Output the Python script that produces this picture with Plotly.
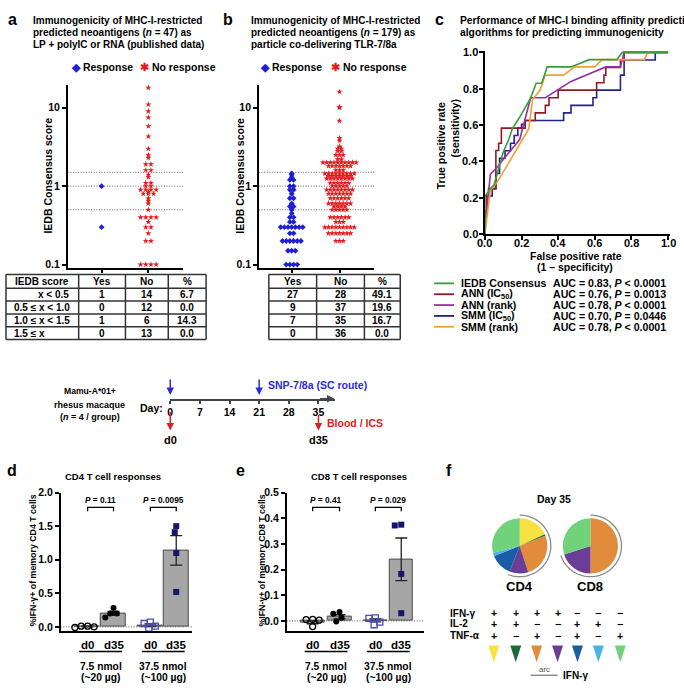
import numpy as np
import plotly.graph_objects as go

W, H = 684, 693
FONT = "Liberation Sans, Arial, Helvetica, sans-serif"


def PX(x):
    return x / W


def PY(y):
    return 1 - y / H


# ---------------- data ----------------
# panel a (published data, n = 47)
a_resp = [1.0, 0.3]
a_noresp = [18, 11, 9, 7.5, 5.8, 4.3, 3.0, 2.5, 2.3, 1.9, 1.9, 1.6, 1.6,
            1.4, 1.3, 1.1, 1.1, 1.0, 1.0,
            0.9, 0.9, 0.9, 0.9, 0.85, 0.8, 0.8, 0.8, 0.7, 0.65, 0.6, 0.5,
            0.4, 0.4, 0.4, 0.4, 0.35, 0.3, 0.3, 0.25, 0.2, 0.2, 0.1, 0.1, 0.1, 0.1]
# panel b (SNP-7/8a, n = 179)
b_resp = [1.45, 1.4, 1.3, 1.2, 1.2, 1.0, 1.0,
          0.9, 0.9, 0.8, 0.7, 0.7, 0.6, 0.55, 0.55, 0.5,
          0.45, 0.4, 0.4, 0.35, 0.35, 0.3, 0.3, 0.3, 0.3, 0.3, 0.3, 0.3,
          0.25, 0.25, 0.2, 0.2, 0.2, 0.2, 0.2, 0.2, 0.15, 0.15, 0.15,
          0.1, 0.1, 0.1, 0.1]
b_noresp = [16, 10.2, 10, 6.8, 4.1, 3.8, 3.2, 3.0, 3.0, 2.8, 2.8, 2.5, 2.5, 2.5, 2.2, 2.2,
            2.0, 2.0, 2.0, 2.0, 2.0, 2.0, 2.0, 2.0, 2.0, 2.0,
            1.8, 1.8, 1.8, 1.8, 1.8, 1.8, 1.8, 1.6, 1.6, 1.6,
            1.45, 1.45, 1.45, 1.45, 1.45, 1.45, 1.45, 1.45, 1.45,
            1.35, 1.35, 1.35, 1.35, 1.35, 1.35, 1.35,
            1.25, 1.25, 1.25, 1.25, 1.25, 1.25, 1.25, 1.25,
            1.1, 1.1, 1.1, 1.1, 1.1, 1.1, 1.0, 1.0, 1.0, 1.0, 1.0,
            0.9, 0.9, 0.9, 0.9, 0.9, 0.9, 0.9, 0.9,
            0.8, 0.8, 0.8, 0.8, 0.8, 0.8, 0.8,
            0.7, 0.7, 0.7, 0.7, 0.7, 0.7,
            0.6, 0.6, 0.6, 0.6, 0.6, 0.6, 0.6,
            0.55, 0.55, 0.55, 0.55, 0.5, 0.5, 0.5, 0.5, 0.5,
            0.4, 0.4, 0.4, 0.4, 0.4, 0.4, 0.35, 0.35, 0.35,
            0.3, 0.3, 0.3, 0.3, 0.3, 0.3, 0.3, 0.3, 0.3,
            0.25, 0.25, 0.25, 0.25, 0.25, 0.25, 0.25, 0.2, 0.2, 0.2]
ref_lines = [0.5, 1.0, 1.5]

score_bins = ["x < 0.5", "0.5 ≤ x < 1.0", "1.0 ≤ x < 1.5", "1.5 ≤ x"]
a_yes = [1, 0, 1, 0]
a_no = [14, 12, 6, 13]
a_pct = ["6.7", "0.0", "14.3", "0.0"]
b_yes = [27, 9, 7, 0]
b_no = [28, 37, 35, 36]
b_pct = ["49.1", "19.6", "16.7", "0.0"]

# panel c ROC curves
roc_ticks = [0.0, 0.2, 0.4, 0.6, 0.8, 1.0]
roc_names = ["IEDB Consensus", "ANN (IC<sub>50</sub>)", "ANN (rank)", "SMM (IC<sub>50</sub>)", "SMM (rank)"]
roc_auc = ["AUC = 0.83, <i>P</i> < 0.0001", "AUC = 0.76, <i>P</i> = 0.0013",
           "AUC = 0.78, <i>P</i> < 0.0001", "AUC = 0.70, <i>P</i> = 0.0446",
           "AUC = 0.78, <i>P</i> < 0.0001"]
roc_colors = ["#3a9b3a", "#8e1b24", "#9a2fa3", "#23238f", "#f5a02e"]
green_fpr = [0, 0.0, 0.01, 0.03, 0.05, 0.08, 0.10, 0.13, 0.15, 0.20, 0.25, 0.28, 0.31, 0.34, 0.47, 0.57, 0.72, 0.75, 1.0]
green_tpr = [0, 0.21, 0.22, 0.25, 0.27, 0.38, 0.45, 0.52, 0.58, 0.66, 0.75, 0.83, 0.83, 0.92, 0.92, 0.96, 0.96, 1.0, 1.0]
red_fpr = [0, 0, .01, .01, .02, .02, .06, .06, .075, .075, .09, .09, .22, .22, .275, .275, .33, .33,
           .35, .35, .40, .40, .61, .61, .65, .65, .66, .66, .74, .74, .76, .76, 1.0]
red_tpr = [0, .125, .125, .21, .21, .25, .25, .46, .46, .5, .5, .583, .583, .625, .625, .667, .667,
           .708, .708, .75, .75, .792, .792, .833, .833, .875, .875, .917, .917, .958, .958, 1.0, 1.0]
purple_fpr = [0, 0.01, 0.03, 0.07, 0.10, 0.14, 0.19, 0.25, 0.33, 0.47, 0.56, 0.66, 0.74, 0.76, 1.0]
purple_tpr = [0, 0.13, 0.33, 0.37, 0.41, 0.46, 0.52, 0.75, 0.75, 0.84, 0.88, 0.92, 0.92, 1.0, 1.0]
navy_fpr = [0, 0, .01, .01, .04, .04, .06, .06, .08, .08, .11, .11, .14, .14, .16, .16, .18, .18,
            .20, .20, .22, .22, .43, .43, .47, .47, .59, .59, .61, .61, .74, .74, .76, .76, .93, .93, 1.0]
navy_tpr = [0, .125, .125, .21, .21, .25, .25, .333, .333, .417, .417, .458, .458, .5, .5, .542, .542,
            .583, .583, .604, .604, .625, .625, .667, .667, .708, .708, .75, .75, .792, .792, .875,
            .875, .958, .958, 1.0, 1.0]
orange_fpr = [0, 0.02, 0.03, 0.07, 0.22, 0.24, 0.26, 0.30, 0.33, 0.43, 0.49, 0.60, 0.64, 0.87, 0.89, 1.0]
orange_tpr = [0, 0.17, 0.24, 0.29, 0.55, 0.58, 0.74, 0.79, 0.875, 0.875, 0.92, 0.92, 0.96, 0.96, 1.0, 1.0]

# timeline
days = [0, 7, 14, 21, 28, 35]
snp_days = [0, 21]
blood_days = [0, 35]

# panel d (CD4)
d_bar = [0.005, 0.20, 0.025, 1.14]
d_err = [0.005, 0.03, 0.02, 0.22]
d_g1_d0 = [0.01, 0.01, 0.0, -0.01]
d_g1_d35 = [0.28, 0.20, 0.20, 0.14]
d_g2_d0 = [0.07, 0.05, 0.01, -0.02]
d_g2_d35 = [1.50, 1.41, 1.10, 0.52]
d_p = ["<i>P</i> = 0.11", "<i>P</i> = 0.0095"]
# panel e (CD8)
e_bar = [-0.005, 0.016, 0.002, 0.24]
e_err = [0.006, 0.008, 0.006, 0.083]
e_g1_d0 = [0.005, 0.003, 0.006, -0.022]
e_g1_d35 = [0.035, 0.028, 0.012, -0.002]
e_g2_d0 = [0.012, 0.010, -0.005, -0.015]
e_g2_d35 = [0.375, 0.372, 0.183, 0.03]
e_p = ["<i>P</i> = 0.41", "<i>P</i> = 0.029"]
dose_l1 = ["7.5 nmol", "37.5 nmol"]
dose_l2 = ["(~20 µg)", "(~100 µg)"]

# panel f
func_colors = ["#f6e342", "#1d6b36", "#e18b3c", "#6a3e96", "#1a5ca6", "#47b4e4", "#72d27c"]
cd4_frac = [0.18, 0.01, 0.26, 0.11, 0.13, 0.02, 0.29]
cd8_frac = [0.0, 0.0, 0.50, 0.20, 0.0, 0.0, 0.30]
ifn_row = ["+", "+", "+", "+", "−", "−", "−"]
il2_row = ["+", "+", "−", "−", "+", "+", "−"]
tnf_row = ["+", "−", "+", "−", "+", "−", "+"]

# ---------------- helpers ----------------
fig = go.Figure()
annotations = []
shapes = []


def text(x, y, s, size=10.5, color="black", xa="left", ya="middle", bold=True, angle=0,
         xref="paper", yref="paper"):
    annotations.append(dict(
        x=PX(x) if xref == "paper" else x, y=PY(y) if yref == "paper" else y,
        xref=xref, yref=yref, text=(f"<b>{s}</b>" if bold else s), showarrow=False,
        font=dict(family=FONT, size=size, color=color), xanchor=xa, yanchor=ya,
        textangle=angle))


def pline(x0, y0, x1, y1, color="#333", width=1.5, dash="solid"):
    shapes.append(dict(type="line", xref="paper", yref="paper", x0=PX(x0), y0=PY(y0),
                       x1=PX(x1), y1=PY(y1), line=dict(color=color, width=width, dash=dash)))


def swarm(vals, d, scale):
    ys = [scale(v) for v in vals]
    order = sorted(range(len(vals)), key=lambda i: -ys[i])
    cands = sorted(np.arange(-45, 45.01, 0.25), key=lambda c: (abs(c), c))
    placed = []
    xs = [0.0] * len(vals)
    for i in order:
        y = ys[i]
        for c in cands:
            if all((c - p) ** 2 + (y - q) ** 2 >= d * d for p, q in placed):
                break
        xs[i] = float(c)
        placed.append((float(c), y))
    return xs


def rows(vals, s):
    groups = {}
    for i, v in enumerate(vals):
        groups.setdefault(v, []).append(i)
    xs = [0.0] * len(vals)
    for v, ids in groups.items():
        n = len(ids)
        for k, i in enumerate(ids):
            xs[i] = (k - (n - 1) / 2) * s
    return xs


def axstyle(**kw):
    base = dict(showline=True, linecolor="black", linewidth=1.5, ticks="outside", ticklen=4,
                tickwidth=1.5, tickcolor="black", showgrid=False, zeroline=False,
                tickfont=dict(family=FONT, size=10.5, color="black", weight="bold"))
    base.update(kw)
    return base


RED = "#e8191c"
BLUE = "#1f1fd6"
DOTS = "1px,1.6px"

# ---------------- panels a & b: scatter rows ----------------
for (xa_, ya_, resp, nores, cx, sp) in [("x", "y", a_resp, a_noresp, (34, 81), 5.2),
                                         ("x2", "y2", b_resp, b_noresp, (33, 81), 3.7)]:
    for v in ref_lines:
        fig.add_trace(go.Scatter(x=[0, 116], y=[v, v], mode="lines", xaxis=xa_, yaxis=ya_,
                                 line=dict(color="#666", width=1, dash=DOTS), hoverinfo="skip"))
    offs = rows(resp, sp)
    fig.add_trace(go.Scatter(x=[cx[0] + o for o in offs], y=resp, mode="markers", xaxis=xa_, yaxis=ya_,
                             marker=dict(symbol="diamond", size=4.5, color=BLUE), cliponaxis=False))
    offs = rows(nores, sp)
    fig.add_trace(go.Scatter(x=[cx[1] + o for o in offs], y=nores, mode="markers", xaxis=xa_, yaxis=ya_,
                             marker=dict(symbol="star", size=4.6, color=RED), cliponaxis=False))

# ---------------- panel c: ROC ----------------
for fx, ty, col in [(navy_fpr, navy_tpr, roc_colors[3]), (red_fpr, red_tpr, roc_colors[1]),
                    (purple_fpr, purple_tpr, roc_colors[2]), (orange_fpr, orange_tpr, roc_colors[4]),
                    (green_fpr, green_tpr, roc_colors[0])]:
    fig.add_trace(go.Scatter(x=fx, y=ty, mode="lines", xaxis="x3", yaxis="y3",
                             line=dict(color=col, width=1.6), hoverinfo="skip"))
for t in roc_ticks:
    annotations.append(dict(x=PX(479), y=t, xref="paper", yref="y3", text=f"<b>{t:.1f}</b>",
                            showarrow=False, font=dict(family=FONT, size=11, color="black"),
                            xanchor="right", yanchor="middle"))
    annotations.append(dict(x=t, y=PY(240), xref="x3", yref="paper", text=f"<b>{t:.1f}</b>",
                            showarrow=False, font=dict(family=FONT, size=11, color="black"),
                            xanchor="center", yanchor="middle"))

# ---------------- panels d & e: bars ----------------
def bar_panel(xa_, ya_, centers, width, bars, errs, groups, pxscale, xmax):
    fig.add_trace(go.Scatter(x=[0, xmax], y=[0, 0], mode="lines", xaxis=xa_, yaxis=ya_,
                             line=dict(color="#555", width=1, dash=DOTS), hoverinfo="skip"))
    fig.add_trace(go.Bar(x=centers, y=bars, width=width, xaxis=xa_, yaxis=ya_,
                         marker=dict(color="#a6a6a6", line=dict(color="#4a4a4a", width=1)),
                         error_y=dict(type="data", array=errs, color="#222", thickness=1.3, width=6)))
    styles = [dict(symbol="circle-open", color="black", size=6, line=dict(width=1.3, color="black")),
              dict(symbol="circle", color="black", size=6),
              dict(symbol="square-open", color="#4a4ab8", size=6, line=dict(width=1.3, color="#4a4ab8")),
              dict(symbol="square", color="#15156e", size=6)]
    for c, vals, st in zip(centers, groups, styles):
        offs = swarm(vals, 6.3, pxscale)
        fig.add_trace(go.Scatter(x=[c + o for o in offs], y=vals, mode="markers", xaxis=xa_, yaxis=ya_,
                                 marker=st, cliponaxis=False))


d_centers = [27, 53, 90, 116]
e_centers = [26, 53, 89, 115]
bar_panel("x4", "y4", d_centers, 25, d_bar, d_err, [d_g1_d0, d_g1_d35, d_g2_d0, d_g2_d35],
          lambda v: v * 68, 132)
bar_panel("x5", "y5", e_centers, 24, e_bar, e_err, [e_g1_d0, e_g1_d35, e_g2_d0, e_g2_d35],
          lambda v: v * 260, 138)

# ---------------- panel f: pies ----------------
pie_centers = [(519, 547), (590, 547)]
R = 28
for (cx, cy), fr in zip(pie_centers, [cd4_frac, cd8_frac]):
    fig.add_trace(go.Pie(values=fr, marker=dict(colors=func_colors, line=dict(width=0)),
                         sort=False, direction="clockwise", rotation=0, textinfo="none",
                         hoverinfo="skip",
                         domain=dict(x=[PX(cx - R), PX(cx + R)], y=[PY(cy + R), PY(cy - R)])))
    ifn_frac = sum(fr[:4])
    th = np.linspace(0, 2 * np.pi * ifn_frac, 80)
    rr = R + 3.2
    pts = [(PX(cx + rr * np.sin(t)), PY(cy - rr * np.cos(t))) for t in th]
    path = "M " + " L ".join(f"{x:.5f},{y:.5f}" for x, y in pts)
    shapes.append(dict(type="path", xref="paper", yref="paper", path=path,
                       line=dict(color="#8a8a8a", width=1.3)))

# ---------------- texts: panel a/b ----------------
text(3, 14, "a", size=16, xa="left")
text(219, 14, "b", size=16, xa="left")
for i, s in enumerate(["Immunogenicity of MHC-I-restricted",
                       "predicted neoantigens (<i>n</i> = 47) as",
                       "LP + polyIC or RNA (published data)"]):
    text(28, 15 + 12 * i, s, size=10)
for i, s in enumerate(["Immunogenicity of MHC-I-restricted",
                       "predicted neoantigens (<i>n</i> = 179) as",
                       "particle co-delivering TLR-7/8a"]):
    text(247, 15 + 12 * i, s, size=10)
for x0, x1 in [(66, 136), (256, 327)]:
    text(x0, 62, f"<span style='color:{BLUE}'>◆</span> Response", size=10.5)
    text(x1, 62, f"<span style='color:{RED}'>✱</span> No response", size=10.5)
text(45, 172, "IEDB Consensus score", size=10.5, xa="center", angle=-90)
text(238, 172, "IEDB Consensus score", size=10.5, xa="center", angle=-90)

# tables
row_y = [272, 286, 299, 312, 325, 338]
pline(3, 272, 204, 272); pline(3, 338, 204, 338)
for x in [3, 76, 123, 166, 204]:
    pline(x, 272, x, 338)
for y in row_y[1:-1]:
    pline(3, y, 204, y)
text(39.5, 279, "IEDB score", size=10, xa="center")
text(99.5, 279, "Yes", size=10, xa="center")
text(144.5, 279, "No", size=10, xa="center")
text(185, 279, "%", size=10, xa="center")
for i in range(4):
    yc = (row_y[i + 1] + row_y[i + 2]) / 2
    if i == 0:
        text(68, yc, score_bins[i], size=10, xa="right")
    else:
        text(9, yc, score_bins[i], size=10, xa="left")
    text(99.5, yc, str(a_yes[i]), size=10, xa="center")
    text(144.5, yc, str(a_no[i]), size=10, xa="center")
    text(185, yc, a_pct[i], size=10, xa="center")

pline(267, 272, 399, 272); pline(267, 338, 399, 338)
for x in [267, 315, 363, 399]:
    pline(x, 272, x, 338)
for y in row_y[1:-1]:
    pline(267, y, 399, y)
text(291, 279, "Yes", size=10, xa="center")
text(339, 279, "No", size=10, xa="center")
text(381, 279, "%", size=10, xa="center")
for i in range(4):
    yc = (row_y[i + 1] + row_y[i + 2]) / 2
    text(291, yc, str(b_yes[i]), size=10, xa="center")
    text(339, yc, str(b_no[i]), size=10, xa="center")
    text(381, yc, b_pct[i], size=10, xa="center")

# ---------------- texts: panel c ----------------
text(432, 14, "c", size=16, xa="left")
text(457, 15, "Performance of MHC-I binding affinity prediction", size=10.3)
text(457, 27, "algorithms for predicting immunogenicity", size=10.3)
text(440, 142, "True positive rate", size=10.5, xa="center", angle=-90)
text(454, 124, "(sensitivity)", size=10.5, xa="center", angle=-90)
text(576, 253, "False positive rate", size=10.5, xa="center")
text(575, 264, "(1 – specificity)", size=10.5, xa="center")
for i in range(5):
    yy = 281 + 11 * i
    pline(433, yy, 453, yy, color=roc_colors[i], width=1.8)
    text(458, yy, roc_names[i], size=10.6)
    text(550, yy, roc_auc[i], size=10.6)

# ---------------- timeline ----------------
text(87, 390, "Mamu-A*01+", size=8.6, xa="center")
text(87, 404, "rhesus macaque", size=9, xa="center")
text(87, 416, "(<i>n</i> = 4 / group)", size=9, xa="center")
text(163, 407, "Day:", size=10.5, xa="right")
annotations.append(dict(x=38.8, y=PY(398), xref="x6", yref="paper", ax=-16, ay=0, text="",
                        showarrow=True, arrowhead=2, arrowsize=1, arrowwidth=1.5,
                        arrowcolor="#444", standoff=0))
for dd in snp_days:
    annotations.append(dict(x=dd, y=PY(394), xref="x6", yref="paper", ax=0, ay=-17, text="",
                            showarrow=True, arrowhead=2, arrowsize=1, arrowwidth=1.5,
                            arrowcolor="#2a2ae0", standoff=0))
for dd, y0 in zip(blood_days, [410, 413]):
    annotations.append(dict(x=dd, y=PY(430), xref="x6", yref="paper", ax=0, ay=-(430 - y0), text="",
                            showarrow=True, arrowhead=2, arrowsize=1, arrowwidth=1.5,
                            arrowcolor="#e02020", standoff=0))
    annotations.append(dict(x=dd, y=PY(440), xref="x6", yref="paper", text=f"<b>d{dd}</b>",
                            showarrow=False, font=dict(family=FONT, size=11, color="black"),
                            xanchor="center", yanchor="middle"))
text(264, 384, "SNP-7/8a (SC route)", size=10.5, color="#2a2ae0")
text(323, 422, "Blood / ICS", size=10.5, color="#e02020")

# ---------------- texts: d & e ----------------
text(2, 471, "d", size=16)
text(232, 471, "e", size=16)
text(110, 477, "CD4 T cell responses", size=9.5, xa="center")
text(358, 477, "CD8 T cell responses", size=9.5, xa="center")
text(30, 562, "%IFN-γ+ of memory CD4 T cells", size=8.8, xa="center", angle=-90)
text(260, 562, "%IFN-γ+ of memory CD8 T cells", size=8.8, xa="center", angle=-90)
for xa_, centers, pv in [("x4", d_centers, d_p), ("x5", e_centers, e_p)]:
    for g in range(2):
        c0, c1 = centers[2 * g], centers[2 * g + 1]
        shapes.append(dict(type="path", xref=xa_, yref="paper",
                           path=f"M {c0},{PY(512)} L {c0},{PY(508)} L {c1},{PY(508)} L {c1},{PY(512)}",
                           line=dict(color="black", width=1.3)))
        annotations.append(dict(x=(c0 + c1) / 2, y=PY(501), xref=xa_, yref="paper", text=f"<b>{pv[g]}</b>",
                                showarrow=False, font=dict(family=FONT, size=8.3, color="black"),
                                xanchor="center", yanchor="middle"))
        for c, lab in [(c0, "d0"), (c1, "d35")]:
            annotations.append(dict(x=c, y=PY(647), xref=xa_, yref="paper", text=f"<b>{lab}</b>",
                                    showarrow=False, font=dict(family=FONT, size=11.5, color="black"),
                                    xanchor="center", yanchor="middle"))
        m = (c0 + c1) / 2
        shapes.append(dict(type="line", xref=xa_, yref="paper", x0=m - 21.5, x1=m + 21.5,
                           y0=PY(654), y1=PY(654), line=dict(color="black", width=1.3)))
        for yy, s in [(669, dose_l1[g]), (680, dose_l2[g])]:
            annotations.append(dict(x=m, y=PY(yy), xref=xa_, yref="paper", text=f"<b>{s}</b>",
                                    showarrow=False, font=dict(family=FONT, size=10.3, color="black"),
                                    xanchor="center", yanchor="middle"))

# ---------------- texts: f ----------------
text(443, 471, "f", size=16)
text(553, 499, "Day 35", size=10.5, xa="center")
text(519, 588, "CD4", size=13, xa="center")
text(590, 588, "CD8", size=13, xa="center")
col_x = [493, 515, 536, 557, 577, 598, 620]
for yy, lab, row in [(615, "IFN-γ", ifn_row), (626, "IL-2", il2_row), (638, "TNF-α", tnf_row)]:
    text(447, yy, lab, size=10)
    for x, s in zip(col_x, row):
        text(x, yy, s, size=10.5, xa="center")
for x, col in zip(col_x, func_colors):
    path = (f"M {PX(x - 5.5):.5f},{PY(648):.5f} L {PX(x + 5.5):.5f},{PY(648):.5f} "
            f"L {PX(x):.5f},{PY(665):.5f} Z")
    shapes.append(dict(type="path", xref="paper", yref="paper", path=path,
                       fillcolor=col, line=dict(width=0)))
text(544, 672, "arc", size=8, color="#555", xa="center", bold=False)
pline(530, 678, 557, 678, color="#555", width=1)
text(560, 678, "IFN-γ", size=10)

# ---------------- layout ----------------
layout_axes = dict(
    xaxis=axstyle(domain=[PX(65), PX(181)], range=[0, 116], tickvals=[34, 81], showticklabels=False, anchor="y"),
    yaxis=axstyle(domain=[PY(265), PY(80)], type="log", range=[-1.038, 1.29], tickvals=[0.1, 1, 10],
                  ticktext=["0.1", "1", "10"], anchor="x"),
    xaxis2=axstyle(domain=[PX(257), PX(373)], range=[0, 116], tickvals=[33, 81], showticklabels=False, anchor="y2"),
    yaxis2=axstyle(domain=[PY(265), PY(80)], type="log", range=[-1.038, 1.29], tickvals=[0.1, 1, 10],
                   ticktext=["0.1", "1", "10"], anchor="x2"),
    xaxis3=axstyle(domain=[PX(484), PX(484 + 1.01 * 184)], range=[0, 1.01], tickvals=roc_ticks,
                   showticklabels=False, anchor="y3"),
    yaxis3=axstyle(domain=[PY(231), PY(231 - 1.01 * 184)], range=[0, 1.01], tickvals=roc_ticks,
                   showticklabels=False, anchor="x3"),
    xaxis4=axstyle(domain=[PX(58), PX(190)], range=[0, 132], ticks="", showticklabels=False, anchor="y4"),
    yaxis4=axstyle(domain=[PY(633), PY(493)], range=[-0.0588, 2.0], tickvals=[0, 0.5, 1, 1.5, 2],
                   tickformat=".1f", anchor="x4"),
    xaxis5=axstyle(domain=[PX(285), PX(423)], range=[0, 138], ticks="", showticklabels=False, anchor="y5"),
    yaxis5=axstyle(domain=[PY(633), PY(493)], range=[-0.0385, 0.5], tickvals=[0, 0.1, 0.2, 0.3, 0.4, 0.5],
                   tickformat=".1f", anchor="x5"),
    xaxis6=axstyle(domain=[PX(168), PX(333)], range=[0, 38.8], tickvals=days, ticklen=3,
                   linecolor="#444", tickcolor="#444", anchor="y6"),
    yaxis6=dict(domain=[PY(398), PY(392)], range=[0, 1], visible=False, anchor="x6"),
)

fig.update_layout(
    width=W, height=H, margin=dict(l=0, r=0, t=0, b=0, pad=0),
    paper_bgcolor="white", plot_bgcolor="rgba(0,0,0,0)", showlegend=False,
    font=dict(family=FONT, color="black"),
    annotations=annotations, shapes=shapes, bargap=0,
    **layout_axes,
)

fig.write_html("out.html")
